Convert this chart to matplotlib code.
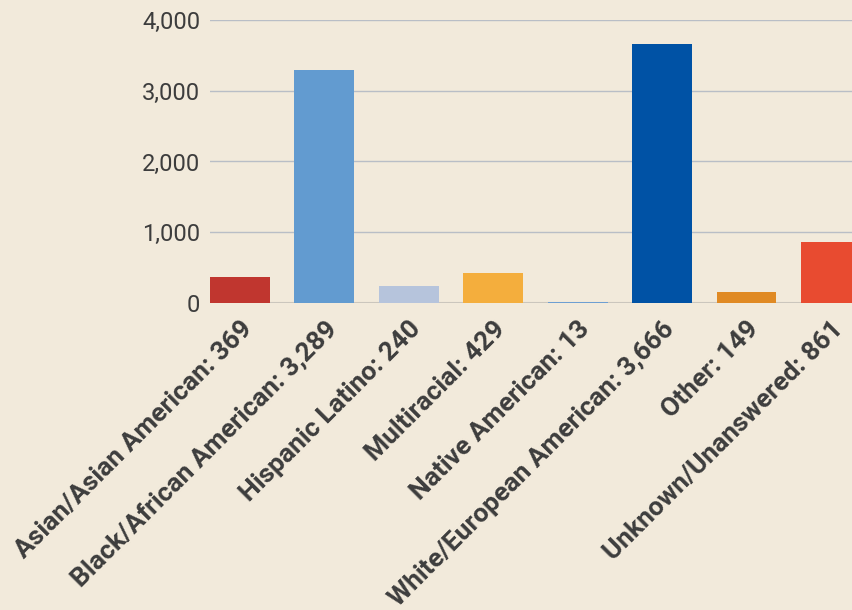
import matplotlib
matplotlib.use('Agg')
import matplotlib.pyplot as plt
from matplotlib.ticker import FuncFormatter

# Дані з графіка
groups = ['Asian/Asian American', 'Black/African American', 'Hispanic Latino',
          'Multiracial', 'Native American', 'White/European American',
          'Other', 'Unknown/Unanswered']
counts = [369, 3289, 240, 429, 13, 3666, 149, 861]
colors = ['#c0362f', '#629bd0', '#b6c4dc', '#f4ae3d',
          '#6e9fd2', '#0052a5', '#e08a24', '#e84b30']
labels = [f'{g}: {c:,}' for g, c in zip(groups, counts)]

bg = '#f2eadb'
text_color = '#3d3d3d'

fig = plt.figure(figsize=(8.52, 6.10), dpi=100, facecolor=bg)
ax = fig.add_axes([210 / 852, 1 - 303 / 610, 1 - 210 / 852, 283 / 610])
ax.set_facecolor(bg)

x = range(len(counts))
ax.bar(x, counts, width=0.71, color=colors, zorder=3)

ax.set_xlim(-0.355, 7.25)
ax.set_ylim(0, 4000)
ax.set_yticks([0, 1000, 2000, 3000, 4000])
ax.yaxis.set_major_formatter(FuncFormatter(lambda v, p: f'{int(v):,}'))
ax.grid(axis='y', color='#b9bec6', linewidth=1, zorder=0)
ax.axhline(0, color='#cbc6bd', linewidth=1.5, zorder=2)

for s in ax.spines.values():
    s.set_visible(False)

ax.tick_params(axis='y', length=0, pad=7, labelsize=17, labelcolor=text_color)
ax.tick_params(axis='x', length=0, pad=10)
ax.set_xticks(list(x))
ax.set_xticklabels(labels, rotation=45, ha='right', rotation_mode='anchor',
                   fontsize=19, fontweight='bold', color=text_color)

for t in ax.get_yticklabels():
    t.set_family(['Roboto', 'DejaVu Sans'])
for t in ax.get_xticklabels():
    t.set_family(['Roboto', 'DejaVu Sans'])

fig.savefig('out.png', dpi=100, facecolor=bg)
